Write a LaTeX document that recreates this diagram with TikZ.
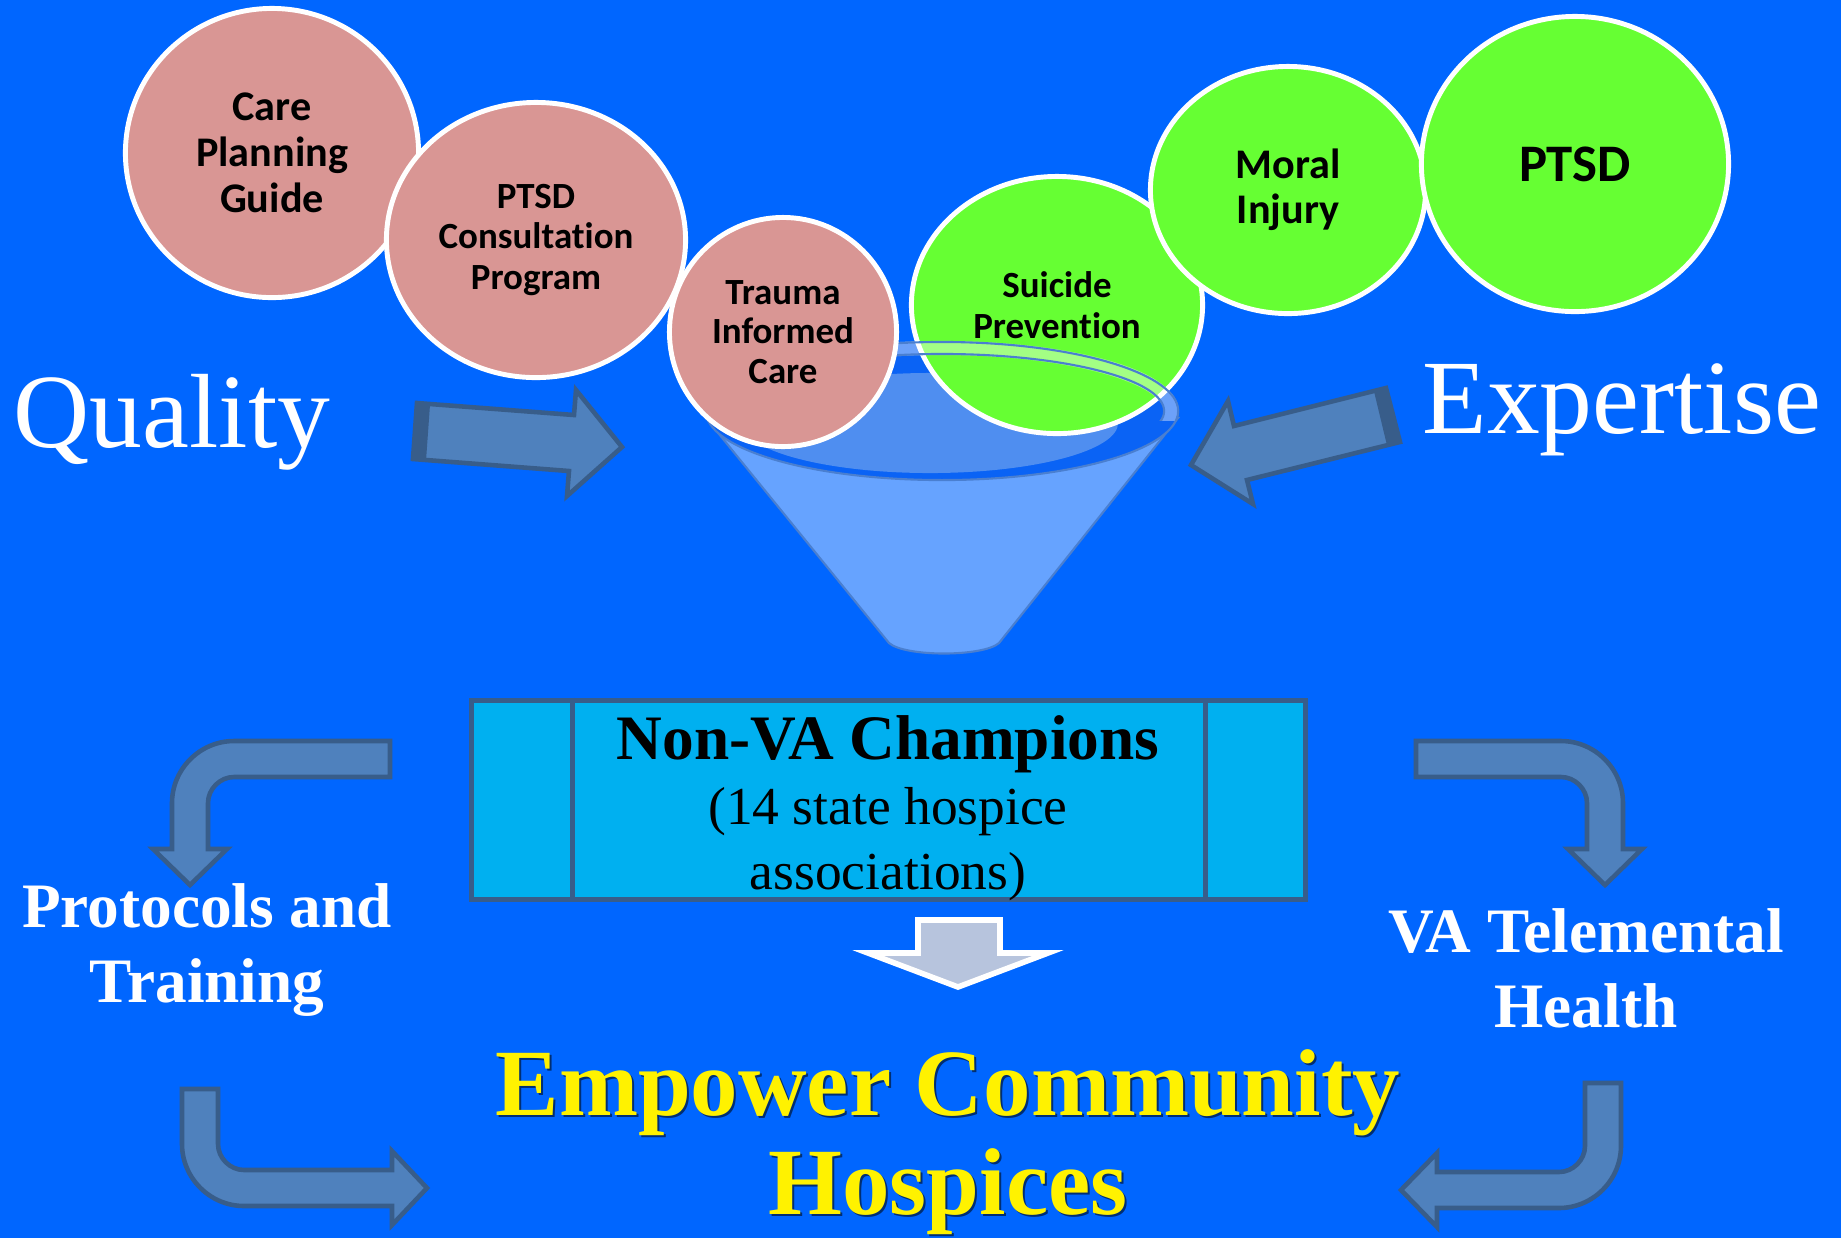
\documentclass[tikz,border=0pt]{standalone}
\usepackage{fontspec}
\setmainfont{Liberation Serif}
\newfontfamily\calibri{Carlito}[Ligatures=NoCommon]
\usepackage{tikz}
\usetikzlibrary{shapes.geometric}

\definecolor{slidebg}{RGB}{0,102,255}
\definecolor{ballrose}{HTML}{D99694}
\definecolor{ballgreen}{HTML}{66FF33}
\definecolor{boxcyan}{HTML}{00B0F0}
\definecolor{steel}{HTML}{4F81BD}
\definecolor{steeldark}{HTML}{385D8A}
\definecolor{funnelblue}{HTML}{66A3FF}
\definecolor{funneldeep}{HTML}{4F8EF0}
\definecolor{funneldark}{HTML}{0A63F5}
\definecolor{funnelline}{HTML}{4A7FD0}
\definecolor{greyblue}{HTML}{B7C4DD}

\tikzset{
  ball/.style={ellipse, draw=white, line width=1.4pt, text=black, align=center, inner sep=0pt},
  roseball/.style={ball, fill=ballrose},
  greenball/.style={ball, fill=ballgreen},
  blockarrow/.style={fill=steel, draw=steeldark, line width=1.3pt, line join=miter},
  tailstrip/.style={fill=steeldark, draw=steeldark, line width=0.6pt},
  downarrow/.style={fill=greyblue, draw=white, line width=1.6pt, line join=miter},
  champbox/.style={rectangle, fill=boxcyan, draw=steeldark, line width=1.4pt},
  champline/.style={draw=steeldark, line width=1.4pt},
  bigword/.style={text=white, inner sep=0pt, font=\fontsize{30}{34}\selectfont},
  sidetext/.style={text=white, align=center, inner sep=0pt},
  empower/.style={align=center, inner sep=0pt, font=\bfseries\fontsize{27}{28.2}\selectfont}
}

\begin{document}
\begin{tikzpicture}[x=0.01cm,y=-0.01cm]
	\useasboundingbox (0,0) rectangle (1841,1238);
	\fill[slidebg] (0,0) rectangle (1841,1238);
	%
	% funnel
	\filldraw[fill=funnelblue, draw=funnelline, line width=0.6pt] (706,418) -- (889,643) .. controls (905,657) and (983,657) .. (999,643) -- (1178,418) -- cycle;
	\filldraw[fill=funneldark, draw=funnelline, line width=0.6pt] (942,411) ellipse [x radius=2.36cm, y radius=0.69cm];
	\fill[funneldeep] (930,423) ellipse [x radius=1.88cm, y radius=0.5cm];
	%
	% topics
	\node[roseball, minimum width=2.93cm, minimum height=2.89cm, font=\calibri\bfseries\fontsize{12}{13}\selectfont] (care) at (272,153) {Care\\Planning\\Guide};
	\node[roseball, minimum width=2.99cm, minimum height=2.75cm, font=\calibri\bfseries\fontsize{10.5}{11.4}\selectfont] (consult) at (536,240) {PTSD\\Consultation\\Program};
	\node[greenball, minimum width=2.91cm, minimum height=2.57cm, font=\calibri\bfseries\fontsize{10.5}{11.7}\selectfont] (suicide) at (1057,305) {Suicide\\Prevention};
	\begin{scope}
		\clip (600,300) rectangle (1250,420);
		\draw[white, draw opacity=0.4, line width=4pt] (942,411) ellipse [x radius=2.29cm, y radius=0.63cm];
		\draw[funnelline, line width=0.6pt] (942,411) ellipse [x radius=2.36cm, y radius=0.69cm];
		\draw[funnelline, line width=0.6pt] (942,411) ellipse [x radius=2.22cm, y radius=0.57cm];
	\end{scope}
	\node[roseball, minimum width=2.27cm, minimum height=2.29cm, font=\calibri\bfseries\fontsize{10.5}{11.2}\selectfont] (trauma) at (783,332) {Trauma\\Informed\\Care};
	\node[greenball, minimum width=2.75cm, minimum height=2.47cm, font=\calibri\bfseries\fontsize{12}{12.8}\selectfont] (moral) at (1288,190) {Moral\\Injury};
	\node[greenball, minimum width=3.07cm, minimum height=2.95cm, font=\calibri\bfseries\fontsize{15}{16}\selectfont] (ptsd) at (1575,164) {PTSD};
	%
	% quality and expertise
	\node[bigword, anchor=base west] (quality) at (13,447) {Quality};
	\node[bigword, anchor=base west] (expertise) at (1422,433) {Expertise};
	\filldraw[blockarrow] (417,403) -- (574,415) -- (576,390) -- (622,447) -- (567,496) -- (569,471) -- (413,459) -- cycle;
	\filldraw[tailstrip] (417,403) -- (413,459) -- (425,460) -- (429,404) -- cycle;
	\filldraw[blockarrow] (1386,388) -- (1234,426) -- (1228,401) -- (1191,465) -- (1253,504) -- (1247,480) -- (1400,442) -- cycle;
	\filldraw[tailstrip] (1386,388) -- (1400,442) -- (1388,445) -- (1375,391) -- cycle;
	%
	% champions
	\node[champbox, minimum width=8.34cm, minimum height=1.99cm] (champ) at (888.5,800) {};
	\draw[champline] ([xshift=1.035cm]champ.north west) -- ([xshift=1.035cm]champ.south west);
	\draw[champline] ([xshift=-1.025cm]champ.north east) -- ([xshift=-1.025cm]champ.south east);
	\node[align=center, inner sep=0pt, font=\fontsize{15.2}{18.5}\selectfont] (champtext) at (888,808) {{\bfseries\fontsize{18}{18.5}\selectfont Non-VA Champions}\\(14 state hospice\\associations)};
	\filldraw[downarrow] (918,920) -- (1000,920) -- (1000,953) -- (1048,953) -- (958,987) -- (868,953) -- (918,953) -- cycle;
	%
	% side loops
	\filldraw[blockarrow] (390,741) -- (234,741) .. controls (200,741) and (172,769) .. (172,803) -- (172,849) -- (153,849) -- (190,885) -- (227,849) -- (208,849) -- (208,803) .. controls (208,789) and (220,777) .. (234,777) -- (390,777) -- cycle;
	\filldraw[blockarrow] (1416,741) -- (1561,741) .. controls (1595,741) and (1623,769) .. (1623,803) -- (1623,849) -- (1642,849) -- (1605,885) -- (1568,849) -- (1587,849) -- (1587,803) .. controls (1587,789) and (1575,777) .. (1561,777) -- (1416,777) -- cycle;
	\filldraw[blockarrow] (182,1089) -- (182,1144) .. controls (182,1178) and (210,1206) .. (244,1206) -- (392,1206) -- (392,1225) -- (427,1188) -- (392,1151) -- (392,1170) -- (244,1170) .. controls (230,1170) and (218,1158) .. (218,1144) -- (218,1089) -- cycle;
	\filldraw[blockarrow] (1621,1083) -- (1621,1146) .. controls (1621,1180) and (1593,1208) .. (1559,1208) -- (1437,1208) -- (1437,1227) -- (1401,1190) -- (1437,1153) -- (1437,1172) -- (1559,1172) .. controls (1573,1172) and (1585,1160) .. (1585,1146) -- (1585,1083) -- cycle;
	\node[sidetext, font=\bfseries\fontsize{18}{21.6}\selectfont] (protocols) at (207,950) {Protocols and\\Training};
	\node[sidetext, font=\bfseries\fontsize{18}{21.3}\selectfont] (telemental) at (1586,968) {VA Telemental\\Health};
	%
	% goal
	\node[empower, text=black, text opacity=0.55] (empowershadow) at (950,1144) {Empower Community\\Hospices};
	\node[empower, text=yellow] (empower) at (948,1142) {Empower Community\\Hospices};
\end{tikzpicture}
\end{document}
